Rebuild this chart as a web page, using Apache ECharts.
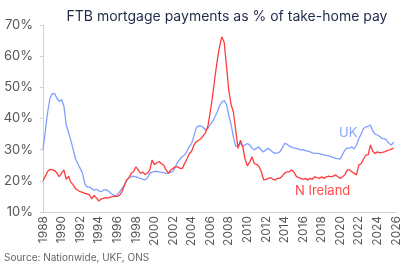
<!DOCTYPE html>
<html>
<head>
    <meta charset="utf-8"/>
    <title>FTB mortgage payments</title>
    <script src="https://cdn.jsdelivr.net/npm/echarts@6/dist/echarts.min.js"></script>
    <style>
        html, body { margin: 0; padding: 0; background: #fff; }
        #chart { width: 410px; height: 267px; }
    </style>
</head>
<body>
<div id="chart"></div>
<script>
// quarterly series, starting 1988 Q1
var startYear = 1988;
var ukValues = [
    30, 36, 42, 46.5,      48, 48, 46.5, 45.5,    46, 44, 38, 35.5,      33, 30, 27, 25.5,
    24, 22.5, 19, 18,      18, 17.5, 17, 17.3,    16.8, 16.5, 17, 17.2,  16.8, 16.2, 15.5, 15.2,
    15.6, 16.5, 17.5, 18.5, 20, 21, 21.3, 21.5,   21.3, 21, 20.8, 20.5,  20.3, 21, 22.4, 22.8,
    23, 23, 22.9, 22.7,    22.6, 22.4, 22.5, 22.8, 23, 24.5, 26, 27,     27.8, 28.3, 29.5, 31,
    32, 34.5, 37, 37.6,    37.6, 37.2, 36.3, 36.8, 38, 39, 40.5, 42,     44, 45.3, 45.8, 44.5,
    41, 38, 34, 31,        31.5, 32, 31, 31.5,    32, 31.5, 30.5, 29.9,  30.5, 30.9, 29.8, 29.3,
    30, 30.4, 29.8, 29.2,  28.8, 29, 29.3, 30.5,  32, 31.8, 31.2, 30.8,  30.6, 30.4, 30.2, 29.9,
    30, 29.7, 29.5, 29.3,  29, 28.8, 28.8, 28.7,  28.5, 28.3, 28.2, 28,  27.8, 27.5, 27.2, 27.1,
    27, 28.5, 29.9, 30.5,  30.5, 30.9, 30.2, 31.5, 33.6, 35, 36.8, 37.3, 37.5, 37.9, 36, 35,
    34.7, 34.2, 33.6, 33.5, 33, 32, 31.5, 32.5
];
var niValues = [
    20, 21.5, 23, 23.7,    23.5, 23.3, 22.5, 21.3, 22.5, 23.5, 20.5, 21.5, 19.5, 18.7, 17.5, 17,
    16.5, 16.3, 16, 15.8,  15.5, 14.2, 15.3, 14.5, 13.5, 14.2, 14.4, 14.6, 14.5, 14.8, 14.9, 15.1,
    15, 15.4, 16.5, 18.5,  20.3, 21, 22.4, 23,    24.5, 23.5, 22.4, 22.8, 22, 22.5, 23.5, 26.7,
    25.2, 25.8, 26.2, 25.5, 25, 23.5, 22.4, 23.5, 24, 24.5, 24.5, 24,    24, 25.6, 27, 28.8,
    29.5, 31.5, 32.5, 33,  33.5, 34.5, 35.5, 37.5, 42, 47, 53, 58.5,     63, 66.2, 64.5, 57,
    49, 44.5, 42, 36,      30.4, 33, 31, 27,      24.8, 26, 27.7, 25.5,  25.3, 24.6, 22.9, 20.3,
    20.5, 20.8, 21, 20.5,  20.3, 20.8, 20.8, 21.5, 22.4, 22.9, 22.9, 23.5, 22.9, 21.5, 21, 20.8,
    20.5, 20.8, 20.3, 20.8, 20.5, 21.3, 21, 20.8, 21.3, 20.8, 21.3, 21.5, 21.3, 21.5, 21.9, 21.3,
    20.8, 21.3, 22, 23.5,  23.5, 22.9, 22.4, 21.9, 25.1, 25.5, 27, 28.3, 28.3, 31.5, 29.5, 28.8,
    29.3, 29, 29.1, 29.3,  29.6, 29.9, 30.2, 30.5
];
var seriesNames = ['UK', 'N Ireland'];
var yTicks = [10, 20, 30, 40, 50, 60, 70];

function toPairs(values) {
    var out = [];
    for (var i = 0; i < values.length; i++) {
        out.push([startYear + i / 4, values[i]]);
    }
    return out;
}

var font = 'Inter, "Noto Sans", sans-serif';
var chart = echarts.init(document.getElementById('chart'));
var option = {
    animation: false,
    title: {
        text: 'FTB mortgage payments as % of take-home pay',
        left: 222, top: 5, textAlign: 'center',
        textStyle: { fontFamily: font, fontSize: 14, fontWeight: 'normal', color: '#1f2a48' }
    },
    grid: { left: 43, right: 14, top: 25, bottom: 55 },
    xAxis: {
        type: 'value', min: 1988, max: 2026, interval: 2,
        axisLine: { lineStyle: { color: '#d0d0d0' } },
        axisTick: { show: false },
        splitLine: { show: false },
        axisLabel: {
            rotate: 90, color: '#555', fontFamily: font, fontSize: 12, margin: 4,
            formatter: function (v) { return String(v); }
        }
    },
    yAxis: {
        type: 'value', min: yTicks[0], max: yTicks[yTicks.length - 1], interval: 10,
        axisLine: { show: true, lineStyle: { color: '#d0d0d0' } },
        axisTick: { show: true, length: 3, lineStyle: { color: '#d0d0d0' } },
        splitLine: { show: false },
        axisLabel: { formatter: '{value}%', color: '#555', fontFamily: font, fontSize: 13, margin: 10 }
    },
    series: [
        {
            name: seriesNames[0], type: 'line', showSymbol: false,
            lineStyle: { color: '#7f9fff', width: 1.3 },
            data: toPairs(ukValues), z: 2
        },
        {
            name: seriesNames[1], type: 'line', showSymbol: false,
            lineStyle: { color: '#ff3b3b', width: 1.3 },
            data: toPairs(niValues), z: 3
        }
    ],
    graphic: [
        { type: 'text', left: 339, top: 127, style: { text: seriesNames[0], fill: '#8aa5ff', font: '13px ' + font } },
        { type: 'text', left: 295, top: 185, style: { text: seriesNames[1], fill: '#ff4a4a', font: '13px ' + font } },
        { type: 'text', left: 4, top: 253, style: { text: 'Source: Nationwide, UKF, ONS', fill: '#666', font: '10px ' + font } }
    ]
};
chart.setOption(option);
</script>
</body>
</html>
